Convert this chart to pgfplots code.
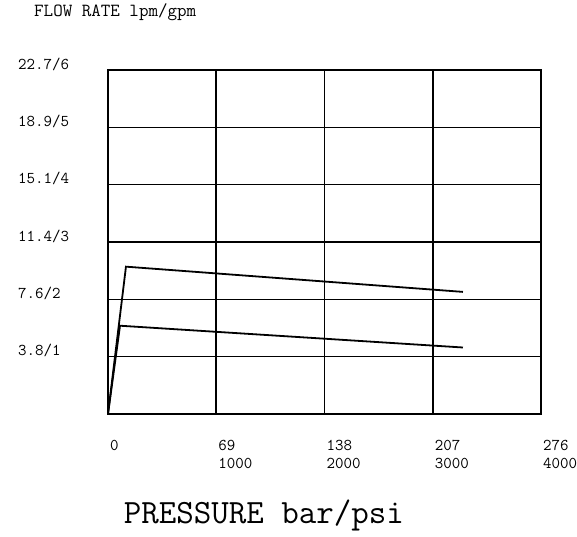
\documentclass[border=0pt]{standalone}
\usepackage{pgfplots}
\pgfplotsset{compat=1.18}
\begin{document}
\begin{tikzpicture}
\useasboundingbox (-108pt,-122pt) rectangle (469pt,414pt);
\begin{axis}[
    at={(0pt,0pt)}, anchor=south west,
    scale only axis,
    width=433pt, height=344pt,
    xmin=0, xmax=4000,
    ymin=0, ymax=6,
    xtick={0,1000,2000,3000,4000},
    xticklabels={0,{69\\1000},{138\\2000},{207\\3000},{276\\4000}},
    ytick={1,2,3,4,5,6},
    yticklabels={3.8/1,7.6/2,11.4/3,15.1/4,18.9/5,22.7/6},
    major tick length=0pt,
    grid=major,
    grid style={black,line width=1.6pt},
    axis line style={black,line width=2pt},
    xticklabel style={font=\ttfamily\fontsize{16.5}{18}\selectfont, align=left,
        anchor=north west, inner sep=0pt, yshift=-26pt, xshift=2pt},
    yticklabel style={font=\ttfamily\fontsize{16.5}{18}\selectfont,
        anchor=west, inner sep=0pt, xshift=-90pt, yshift=6pt},
    title={FLOW RATE lpm/gpm},
    title style={font=\ttfamily\fontsize{18.5}{20}\selectfont,
        at={(axis description cs:0,1)}, anchor=west, inner sep=0pt,
        xshift=-74pt, yshift=52pt},
    xlabel={PRESSURE bar/psi},
    xlabel style={font=\ttfamily\fontsize{34}{36}\selectfont,
        at={(axis description cs:0.36,0)}, anchor=center, inner sep=0pt,
        yshift=-101pt},
  ]
  \addplot[black, line width=1.8pt] coordinates {(0,0) (166,2.57) (3279,2.13)};
  \addplot[black, line width=1.8pt] coordinates {(0,0) (111,1.54) (3279,1.16)};
\end{axis}
\end{tikzpicture}
\end{document}
